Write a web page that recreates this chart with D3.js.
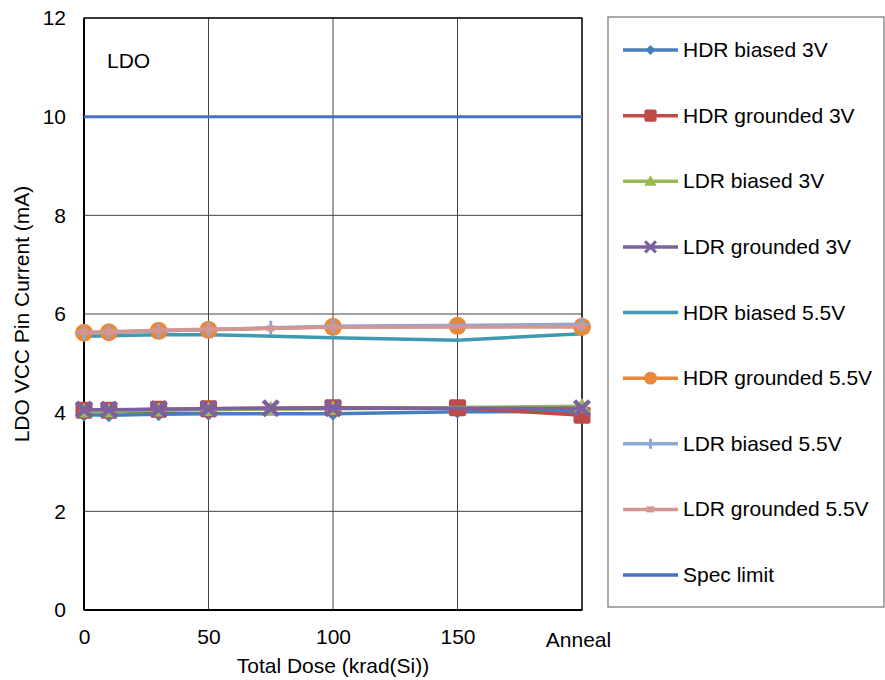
<!DOCTYPE html>
<html><head><meta charset="utf-8">
<script src="https://cdn.jsdelivr.net/npm/d3@7"></script>
<style>body{margin:0;background:#fff}svg{display:block;font-family:"Liberation Sans",Arial,sans-serif}</style>
</head><body><svg id="c" width="885" height="680"></svg>
<script>
const xTicks = [0, 50, 100, 150, 200];
const xTickLabels = ["0", "50", "100", "150", "Anneal"];
const yTicks = [0, 2, 4, 6, 8, 10, 12];
const hdrX = [0, 10, 30, 50, 100, 150, 200];
const ldrX = [0, 10, 30, 50, 75, 100, 200];
const hdrBiased3 = [3.96, 3.95, 3.97, 3.98, 3.98, 4.02, 4.03];
const hdrGrounded3 = [4.05, 4.05, 4.07, 4.08, 4.10, 4.10, 3.95];
const ldrBiased3 = [4.03, 4.03, 4.05, 4.06, 4.07, 4.08, 4.13];
const ldrGrounded3 = [4.06, 4.06, 4.07, 4.08, 4.09, 4.09, 4.09];
const hdrBiased55 = [5.55, 5.56, 5.58, 5.58, 5.52, 5.47, 5.60];
const hdrGrounded55 = [5.62, 5.63, 5.66, 5.68, 5.74, 5.76, 5.74];
const ldrBiased55 = [5.62, 5.63, 5.66, 5.68, 5.72, 5.75, 5.79];
const ldrGrounded55 = [5.63, 5.64, 5.67, 5.69, 5.71, 5.73, 5.74];
const specLimit = 10;
const seriesNames = ["HDR biased 3V","HDR grounded 3V","LDR biased 3V","LDR grounded 3V","HDR biased 5.5V","HDR grounded 5.5V","LDR biased 5.5V","LDR grounded 5.5V","Spec limit"];

const series = [
  {name: seriesNames[0], xs: hdrX, ys: hdrBiased3, color: "#4A7EBB", marker: "diamond"},
  {name: seriesNames[1], xs: hdrX, ys: hdrGrounded3, color: "#BE4B48", marker: "square"},
  {name: seriesNames[2], xs: ldrX, ys: ldrBiased3, color: "#98B954", marker: "triangle"},
  {name: seriesNames[3], xs: ldrX, ys: ldrGrounded3, color: "#7D60A0", marker: "x"},
  {name: seriesNames[4], xs: hdrX, ys: hdrBiased55, color: "#3E9AB1", marker: "none"},
  {name: seriesNames[5], xs: hdrX, ys: hdrGrounded55, color: "#E8883A", marker: "circle"},
  {name: seriesNames[6], xs: ldrX, ys: ldrBiased55, color: "#8EA8D3", marker: "plus"},
  {name: seriesNames[7], xs: ldrX, ys: ldrGrounded55, color: "#D59593", marker: "dash"}
];
const specColor = "#4472C4";

const svg = d3.select("#c");
const L = 84, R = 582, T = 18, B = 610;
const x = d3.scaleLinear().domain([0, 200]).range([L, R]);
const y = d3.scaleLinear().domain([0, 12]).range([B, T]);
const FS = 21;

// gridlines
svg.append("g").selectAll("line").data(yTicks).join("line")
  .attr("x1", L).attr("x2", R).attr("y1", d => y(d)).attr("y2", d => y(d))
  .attr("stroke", "#444").attr("stroke-width", 1);
svg.append("g").selectAll("line").data(xTicks).join("line")
  .attr("y1", T).attr("y2", B).attr("x1", d => x(d)).attr("x2", d => x(d))
  .attr("stroke", "#444").attr("stroke-width", 1);
// border / axes
svg.append("rect").attr("x", L).attr("y", T).attr("width", R - L).attr("height", B - T)
  .attr("fill", "none").attr("stroke", "#000").attr("stroke-width", 1.3);
svg.append("line").attr("x1", L).attr("x2", L).attr("y1", T).attr("y2", B).attr("stroke", "#000").attr("stroke-width", 2);
svg.append("line").attr("x1", L).attr("x2", R).attr("y1", B).attr("y2", B).attr("stroke", "#000").attr("stroke-width", 2);

// y tick labels
const yAxis = d3.axisLeft(y).tickValues(yTicks).tickSize(0).tickPadding(18);
const gy = svg.append("g").attr("transform", `translate(${L},0)`).call(yAxis);
gy.select(".domain").remove();
gy.selectAll("text").attr("font-size", FS).attr("font-family", "Liberation Sans, Arial, sans-serif").attr("fill", "#000");

// x tick labels
const xAxis = d3.axisBottom(x).tickValues(xTicks).tickFormat((d, i) => xTickLabels[i]).tickSize(0).tickPadding(16);
const gx = svg.append("g").attr("transform", `translate(0,${B})`).call(xAxis);
gx.select(".domain").remove();
gx.selectAll("text").attr("font-size", FS).attr("font-family", "Liberation Sans, Arial, sans-serif").attr("fill", "#000")
  .attr("dy", (d, i) => i === 4 ? "1.0em" : "0.85em").attr("dx", (d, i) => i === 4 ? -4 : 0);

// axis titles
svg.append("text").attr("x", (L + R) / 2).attr("y", 673).attr("text-anchor", "middle")
  .attr("font-size", FS).text("Total Dose (krad(Si))");
svg.append("text").attr("transform", `translate(29,${(T + B) / 2}) rotate(-90)`).attr("text-anchor", "middle")
  .attr("font-size", FS).text("LDO VCC Pin Current (mA)");
svg.append("text").attr("x", 107).attr("y", 68).attr("font-size", FS).text("LDO");

// spec limit
svg.append("line").attr("x1", x(0)).attr("x2", x(200)).attr("y1", y(specLimit)).attr("y2", y(specLimit))
  .attr("stroke", specColor).attr("stroke-width", 3);

function drawMarker(g, type, color, s) {
  if (type === "diamond") {
    const h = 7 * s;
    g.append("path").attr("d", `M0,${-h}L${h},0L0,${h}L${-h},0Z`).attr("fill", color);
  } else if (type === "square") {
    const w = 17 * s;
    g.append("rect").attr("x", -w / 2).attr("y", -w / 2).attr("width", w).attr("height", w).attr("rx", 2)
      .attr("fill", color);
  } else if (type === "triangle") {
    const h = 8.5 * s;
    g.append("path").attr("d", `M0,${-h}L${h},${h * 0.75}L${-h},${h * 0.75}Z`).attr("fill", color);
  } else if (type === "x") {
    const h = 7.5 * s;
    g.append("path").attr("d", `M${-h},${-h}L${h},${h}M${-h},${h}L${h},${-h}`)
      .attr("stroke", color).attr("stroke-width", 4.5 * s).attr("fill", "none");
  } else if (type === "circle") {
    g.append("circle").attr("r", 9 * s).attr("fill", color);
  } else if (type === "plus") {
    const h = 7 * s;
    g.append("path").attr("d", `M${-h},0L${h},0M0,${-h}L0,${h}`)
      .attr("stroke", color).attr("stroke-width", 3).attr("fill", "none");
  } else if (type === "dash") {
    g.append("rect").attr("x", -4).attr("y", -3).attr("width", 8).attr("height", 6).attr("fill", color);
  }
}

const line = d3.line().x(d => x(d[0])).y(d => y(d[1]));
series.forEach(s => {
  const pts = s.xs.map((xv, i) => [xv, s.ys[i]]);
  const g = svg.append("g");
  g.append("path").datum(pts).attr("d", line).attr("fill", "none")
    .attr("stroke", s.color).attr("stroke-width", 3.5).attr("stroke-linejoin", "round");
  if (s.marker !== "none") {
    pts.forEach(p => {
      const mg = g.append("g").attr("transform", `translate(${x(p[0])},${y(p[1])})`);
      drawMarker(mg, s.marker, s.color, 1);
    });
  }
});

// legend
const lg = svg.append("g");
lg.append("rect").attr("x", 608).attr("y", 17).attr("width", 276).attr("height", 590)
  .attr("fill", "#fff").attr("stroke", "#7f7f7f").attr("stroke-width", 1.3);
const legendItems = series.map(s => ({name: s.name, color: s.color, marker: s.marker}))
  .concat([{name: seriesNames[8], color: specColor, marker: "none"}]);
const ly = d3.scaleLinear().domain([0, 8]).range([50, 575]);
legendItems.forEach((it, i) => {
  const yy = ly(i);
  lg.append("line").attr("x1", 623).attr("x2", 678).attr("y1", yy).attr("y2", yy)
    .attr("stroke", it.color).attr("stroke-width", 3.5);
  const mg = lg.append("g").attr("transform", `translate(650.5,${yy})`);
  drawMarker(mg, it.marker, it.color, 0.72);
  lg.append("text").attr("x", 683).attr("y", yy + 7).attr("font-size", FS).text(it.name);
});
</script></body></html>
